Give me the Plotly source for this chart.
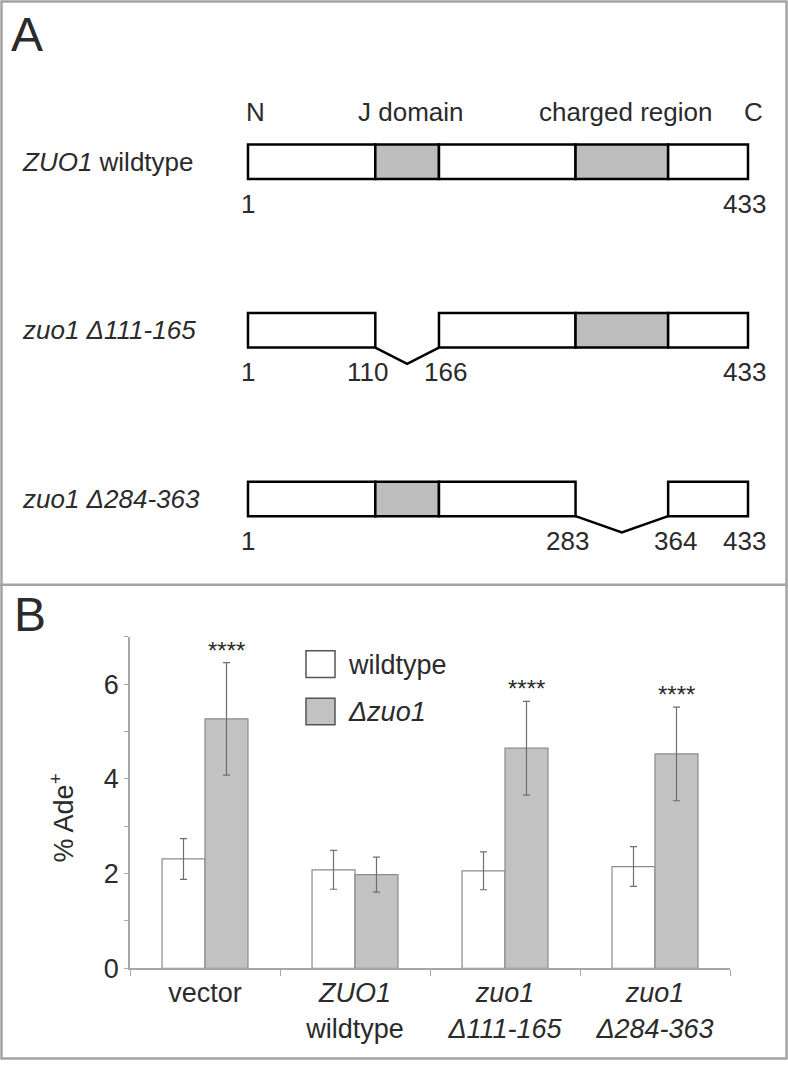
import plotly.graph_objects as go

# ---------------- data ----------------
# Panel A: ZUO1 protein architecture
protein_length = 433
j_domain = (111, 165)
charged_region = (284, 363)
construct_names = ["<i>ZUO1</i> wildtype", "<i>zuo1 Δ111-165</i>", "<i>zuo1 Δ284-363</i>"]
construct_deletions = [None, (111, 165), (284, 363)]
header_labels = ["N", "J domain", "charged region", "C"]

# Panel B: % Ade+ bar chart
categories = ["vector", "<i>ZUO1</i><br>wildtype", "<i>zuo1</i><br><i>Δ111-165</i>",
              "<i>zuo1</i><br><i>Δ284-363</i>"]
series_names = ["wildtype", "<i>Δzuo1</i>"]
wildtype_values = [2.31, 2.08, 2.06, 2.15]
wildtype_errors = [0.43, 0.41, 0.40, 0.42]
dzuo1_values = [5.27, 1.98, 4.65, 4.53]
dzuo1_errors = [1.19, 0.37, 0.99, 0.99]
significance = ["****", "", "****", "****"]
y_range = [0, 7]
y_major_step = 2
y_minor_step = 1

# ---------------- style ----------------
W, H = 788, 1076
FONT = "Liberation Sans, Arial, Helvetica, sans-serif"
TXT = "#2b2b2b"
GRAY_FILL = "#bdbdbd"
BAR_GRAY = "#c2c2c2"
OUTLINE = "#8a8a8a"
AXIS = "#a8a8a8"
FS = 26


def px(x):
    return x / W


def py(y):
    return 1 - y / H


fig = go.Figure()

# ---------------- Panel B bars ----------------
fig.add_trace(go.Bar(
    x=categories, y=wildtype_values, name=series_names[0],
    marker=dict(color="white", line=dict(color=OUTLINE, width=1.2)),
    error_y=dict(type="data", array=wildtype_errors, color="#6e6e6e", thickness=1.2, width=3.5),
    xaxis="x", yaxis="y", showlegend=False,
))
fig.add_trace(go.Bar(
    x=categories, y=dzuo1_values, name=series_names[1],
    marker=dict(color=BAR_GRAY, line=dict(color=OUTLINE, width=1.2)),
    error_y=dict(type="data", array=dzuo1_errors, color="#6e6e6e", thickness=1.2, width=3.5),
    xaxis="x", yaxis="y", showlegend=False,
))

annotations = []
shapes = []

# significance stars (offset group of 2nd series)
for i, (cat, v, e, s) in enumerate(zip(categories, dzuo1_values, dzuo1_errors, significance)):
    if s:
        annotations.append(dict(
            x=i, y=v + e, xref="x", yref="y", text=s, showarrow=False,
            xanchor="center", yanchor="bottom", xshift=21, yshift=-3,
            font=dict(family=FONT, size=24, color=TXT)))

# custom legend (large swatches)
leg_fills = ["white", BAR_GRAY]
for k, (name, fill) in enumerate(zip(series_names, leg_fills)):
    top = 660 + 48 * k
    shapes.append(dict(type="rect", xref="paper", yref="paper",
                       x0=px(306), x1=px(335), y0=py(top + 27), y1=py(top),
                       fillcolor=fill, line=dict(color="#555555", width=1.5)))
    annotations.append(dict(x=px(346), y=py(top + 14), xref="paper", yref="paper",
                            text=name, showarrow=False, xanchor="left", yanchor="middle",
                            font=dict(family=FONT, size=27, color=TXT)))

# y-axis title
annotations.append(dict(x=px(62), y=py(830), xref="paper", yref="paper",
                        text="% Ade<sup>+</sup>", textangle=-90, showarrow=False,
                        xanchor="center", yanchor="middle",
                        font=dict(family=FONT, size=27, color=TXT)))

# ---------------- Panel A diagram ----------------
n_rows = len(construct_names)
half_h = 0.1023   # half box height in row units
v_depth = 0.0965  # depth of deletion V
boundaries = [1, j_domain[0], j_domain[1] + 1, charged_region[0], charged_region[1] + 1, protein_length]
domain_ranges = [j_domain, charged_region]


def in_domain(a, b):
    for d in domain_ranges:
        if a >= d[0] and b <= d[1] + 1:
            return True
    return False


for r, (name, dele) in enumerate(zip(construct_names, construct_deletions)):
    yc = n_rows - 1 - r
    # row label
    annotations.append(dict(x=px(20), y=yc, xref="paper", yref="y2", text=name,
                            showarrow=False, xanchor="left", yanchor="middle",
                            font=dict(family=FONT, size=FS, color=TXT)))
    for a, b in zip(boundaries[:-1], boundaries[1:]):
        if dele is not None and a >= dele[0] and b <= dele[1] + 1:
            continue
        shapes.append(dict(type="rect", xref="x2", yref="y2", x0=a, x1=b,
                           y0=yc - half_h, y1=yc + half_h,
                           fillcolor=GRAY_FILL if in_domain(a, b) else "white",
                           line=dict(color="black", width=2.5), layer="above"))
    # numbers below
    nums = [(1, "1", 0), (protein_length, str(protein_length), -3)]
    if dele is not None:
        xa, xb = dele[0], dele[1] + 1
        fig.add_trace(go.Scatter(
            x=[xa, (xa + xb) / 2, xb], y=[yc - half_h, yc - half_h - v_depth, yc - half_h],
            mode="lines", line=dict(color="black", width=2.5), xaxis="x2", yaxis="y2",
            showlegend=False, hoverinfo="skip", cliponaxis=False))
        nums += [(xa, str(dele[0] - 1), -8), (xb, str(dele[1] + 1), 7)]
    for xv, t, sh in nums:
        annotations.append(dict(x=xv, y=yc - 0.248, xref="x2", yref="y2", text=t,
                                showarrow=False, xanchor="center", yanchor="middle", xshift=sh,
                                font=dict(family=FONT, size=FS, color=TXT)))

# header labels above first row
top_y = n_rows - 1 + 0.296
hdr_pos = [(1, "left", -4), ((j_domain[0] + j_domain[1] + 1) / 2, "center", 4),
           ((charged_region[0] + charged_region[1] + 1) / 2, "center", 4),
           (protein_length, "center", 6)]
for lab, (xv, anc, sh) in zip(header_labels, hdr_pos):
    annotations.append(dict(x=xv, y=top_y, xref="x2", yref="y2", text=lab, showarrow=False,
                            xanchor=anc, yanchor="middle", xshift=sh,
                            font=dict(family=FONT, size=FS, color=TXT)))

# panel letters
annotations.append(dict(x=px(9), y=py(6), xref="paper", yref="paper", text="A", showarrow=False,
                        xanchor="left", yanchor="top", font=dict(family=FONT, size=48, color=TXT)))
annotations.append(dict(x=px(12), y=py(594), xref="paper", yref="paper", text="B", showarrow=False,
                        xanchor="left", yanchor="top", font=dict(family=FONT, size=48, color=TXT)))

# frame and divider
shapes.append(dict(type="rect", xref="paper", yref="paper", x0=px(1.5), x1=px(786.5),
                   y0=py(1073.5), y1=py(1.5), line=dict(color="#a4a4a4", width=2.5),
                   fillcolor="rgba(0,0,0,0)"))
shapes.append(dict(type="line", xref="paper", yref="paper", x0=0, x1=1, y0=py(593), y1=py(593),
                   line=dict(color="#a4a4a4", width=2.5)))

# axis geometry for panel A (residue scale)
px_per_res = 500 / (protein_length - 1)
xr = [-10, protein_length + 12]
x2_left = 248 + (xr[0] - 1) * px_per_res
x2_right = 248 + (xr[1] - 1) * px_per_res
row_px = 171
y2_top_px, y2_bot_px, row3_px = 30, 590, 506

fig.update_layout(
    width=W, height=H, margin=dict(l=0, r=0, t=0, b=0),
    paper_bgcolor="white", plot_bgcolor="white",
    barmode="group", bargap=0.427, bargroupgap=0,
    font=dict(family=FONT, size=27, color=TXT),
    xaxis=dict(domain=[px(130), px(730)], anchor="y", showline=True, linecolor=AXIS, linewidth=1.5,
               ticks="outside", tickson="boundaries", ticklen=6, tickcolor=AXIS, tickwidth=1.2,
               showgrid=False, zeroline=False, tickfont=dict(family=FONT, size=27, color=TXT)),
    yaxis=dict(domain=[py(982), py(646)], anchor="x", range=y_range, showline=True, linecolor=AXIS,
               linewidth=1.5, ticks="outside", ticklen=4, tickcolor=AXIS, tickwidth=1.2,
               tick0=0, dtick=y_major_step, showgrid=False, zeroline=False,
               minor=dict(ticks="outside", tick0=0, dtick=y_minor_step, ticklen=4,
                          tickcolor=AXIS, tickwidth=1.2, showgrid=False),
               tickfont=dict(family=FONT, size=27, color=TXT)),
    xaxis2=dict(domain=[px(x2_left), px(x2_right)], anchor="y2", range=xr, visible=False),
    yaxis2=dict(domain=[py(y2_bot_px), py(y2_top_px)], anchor="x2",
                range=[-(y2_bot_px - row3_px) / row_px, (row3_px - y2_top_px) / row_px], visible=False),
    annotations=annotations, shapes=shapes, showlegend=False,
)

page_fix = ("document.documentElement.style.margin='0';document.documentElement.style.overflow='hidden';"
            "document.body.style.margin='0';document.body.style.padding='0';"
            "document.body.style.overflow='hidden';document.body.style.height='1076px';")
fig.write_html("out.html", config={"displayModeBar": False}, post_script=page_fix)
